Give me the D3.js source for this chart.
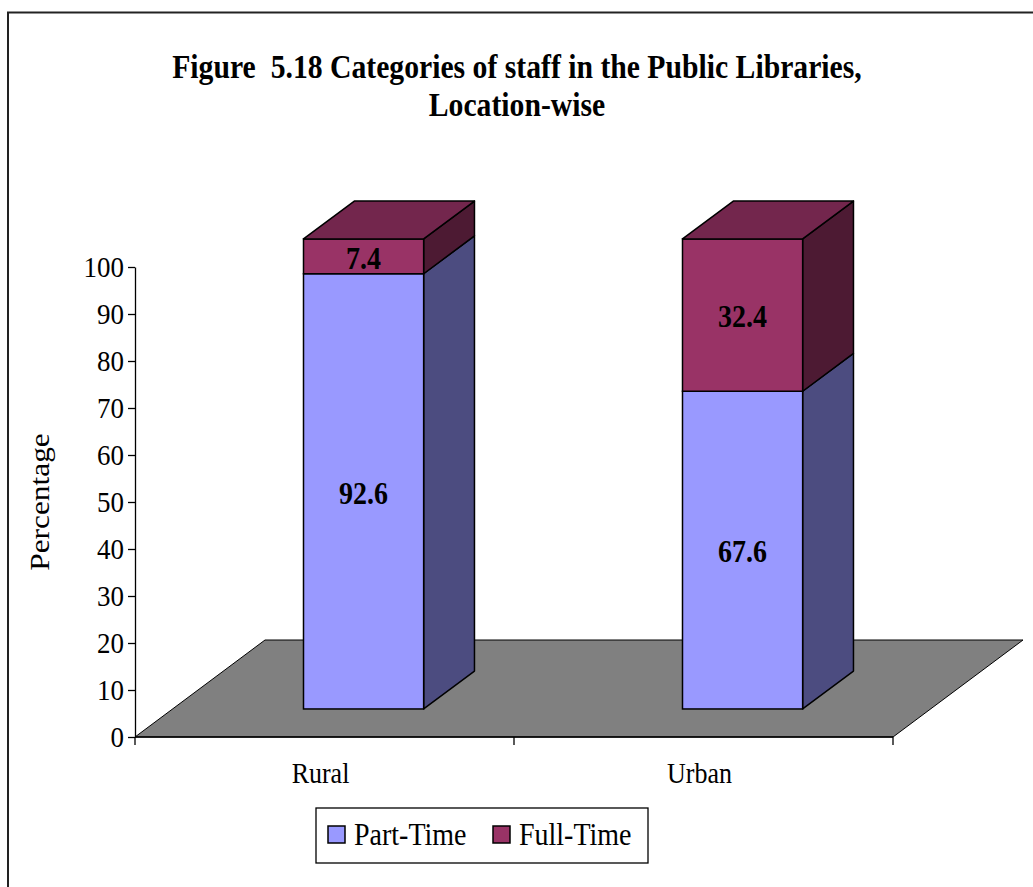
<!DOCTYPE html>
<html>
<head>
<meta charset="utf-8">
<script src="https://cdn.jsdelivr.net/npm/d3@7/dist/d3.min.js"></script>
<style>
  html, body { margin: 0; padding: 0; background: #fff; }
  svg { display: block; }
  text { font-family: "Liberation Serif", "Times New Roman", serif; }
</style>
</head>
<body>
<svg id="chart" width="1033" height="887"></svg>
<script>
// ---- data ----
const categories = ["Rural", "Urban"];
const seriesNames = ["Part-Time", "Full-Time"];
const partTime = [92.6, 67.6];
const fullTime = [7.4, 32.4];
const yTicks = [0, 10, 20, 30, 40, 50, 60, 70, 80, 90, 100];
const titleLines = ["Figure  5.18 Categories of staff in the Public Libraries,", "Location-wise"];
const yLabel = "Percentage";

// ---- styles ----
const colors = {
  "Part-Time": { front: "#9999FF", side: "#4C4C80", top: "#7A7ACC" },
  "Full-Time": { front: "#993366", side: "#4D1A33", top: "#73264D" }
};
const SY = 1.12; // vertical text stretch seen in the reference

const svg = d3.select("#chart");
svg.append("rect").attr("x", 0).attr("y", 0).attr("width", 1033).attr("height", 887).attr("fill", "#fff");
// outer chart border (right/bottom beyond view)
svg.append("rect").attr("x", 8).attr("y", 12.5).attr("width", 1100).attr("height", 1000)
  .attr("fill", "none").attr("stroke", "#222").attr("stroke-width", 2);

// ---- layout ----
const x0 = 135, x1 = 893, yBase = 737, yTop = 267;
const depthDX = 130, depthDY = -97;          // full floor depth
const f0 = 0.289, f1 = 0.68;                 // bar depth fraction (front/back)
const y = d3.scaleLinear().domain([0, 100]).range([yBase, yTop]);
const x = d3.scaleBand().domain(categories).range([x0, x1]);
const barW = x.bandwidth() * 0.317;

// floor
const floorPts = [[x0, yBase], [x1, yBase], [x1 + depthDX, yBase + depthDY], [x0 + depthDX, yBase + depthDY]];
svg.append("polygon").attr("points", floorPts.map(p => p.join(",")).join(" "))
  .attr("fill", "#808080").attr("stroke", "#000").attr("stroke-width", 1);

// y axis
const yAxis = d3.axisLeft(y).tickValues(yTicks).tickSize(7).tickSizeOuter(0).tickPadding(4);
const gy = svg.append("g").attr("transform", `translate(${x0},0)`).call(yAxis);
gy.select(".domain").attr("stroke", "#000").attr("stroke-width", 1.3);
gy.selectAll(".tick line").attr("stroke", "#000").attr("stroke-width", 1.3);
gy.selectAll(".tick text").attr("font-size", 27).attr("fill", "#000")
  .attr("font-family", "Liberation Serif, serif").attr("transform", `scale(1,${SY})`);

// x axis
svg.append("line").attr("x1", x0).attr("x2", x1).attr("y1", yBase).attr("y2", yBase)
  .attr("stroke", "#000").attr("stroke-width", 1.3);
const xTickPos = categories.map(c => x(c)).concat([x1]);
svg.selectAll(".xtick").data(xTickPos).enter().append("line")
  .attr("x1", d => d).attr("x2", d => d).attr("y1", yBase).attr("y2", yBase + 8)
  .attr("stroke", "#000").attr("stroke-width", 1.3);
svg.selectAll(".xlab").data(categories).enter().append("text")
  .attr("transform", d => `translate(${x(d) + x.bandwidth() / 2 - 4},783) scale(1,${SY})`)
  .attr("text-anchor", "middle").attr("font-size", 26).attr("fill", "#000").text(d => d);

// y label
svg.append("text").attr("transform", `translate(49,502) scale(1,${SY}) rotate(-90)`)
  .attr("text-anchor", "middle").attr("font-size", 28).attr("fill", "#000").text(yLabel);

// bars
const ox = f0 * depthDX, oy = f0 * depthDY;
const dx = (f1 - f0) * depthDX, dy = (f1 - f0) * depthDY;
const stacks = categories.map((c, i) => {
  const segs = [
    { name: "Part-Time", v0: 0, v1: partTime[i], val: partTime[i] },
    { name: "Full-Time", v0: partTime[i], v1: partTime[i] + fullTime[i], val: fullTime[i] }
  ];
  return { c, segs };
});
stacks.forEach(st => {
  const xl = x(st.c) + x.bandwidth() / 2 - barW / 2 + ox + 1.5;
  const xr = xl + barW;
  st.segs.forEach((s, j) => {
    const yb = y(s.v0) + oy, yt = y(s.v1) + oy;
    const col = colors[s.name];
    svg.append("polygon")
      .attr("points", [[xr, yb], [xr + dx, yb + dy], [xr + dx, yt + dy], [xr, yt]].map(p => p.join(",")).join(" "))
      .attr("fill", col.side).attr("stroke", "#000").attr("stroke-width", 1.5).attr("stroke-linejoin", "round");
    svg.append("rect").attr("x", xl).attr("y", yt).attr("width", barW).attr("height", yb - yt)
      .attr("fill", col.front).attr("stroke", "#000").attr("stroke-width", 1.5);
    if (j === st.segs.length - 1) {
      svg.append("polygon")
        .attr("points", [[xl, yt], [xl + dx, yt + dy], [xr + dx, yt + dy], [xr, yt]].map(p => p.join(",")).join(" "))
        .attr("fill", col.top).attr("stroke", "#000").attr("stroke-width", 1.5).attr("stroke-linejoin", "round");
    }
    svg.append("text")
      .attr("transform", `translate(${xl + barW / 2},${(yb + yt) / 2 + 2}) scale(1,${SY})`)
      .attr("dy", "0.33em")
      .attr("text-anchor", "middle").attr("font-size", 28).attr("font-weight", "bold")
      .attr("fill", "#000").text(s.val.toFixed(1));
  });
});

// title
svg.selectAll(".title").data(titleLines).enter().append("text")
  .attr("transform", (d, i) => `translate(517,${78 + i * 38}) scale(1,${SY})`)
  .attr("text-anchor", "middle").attr("font-size", 29.7).attr("font-weight", "bold")
  .attr("fill", "#000").style("white-space", "pre").text(d => d);

// legend
const lg = svg.append("g");
lg.append("rect").attr("x", 316).attr("y", 808).attr("width", 332).attr("height", 55)
  .attr("fill", "#fff").attr("stroke", "#000").attr("stroke-width", 1.3);
const legX = [328, 493];
seriesNames.forEach((n, i) => {
  lg.append("rect").attr("x", legX[i]).attr("y", 826).attr("width", 17).attr("height", 17)
    .attr("fill", colors[n].front).attr("stroke", "#000").attr("stroke-width", 1.5);
  lg.append("text").attr("transform", `translate(${legX[i] + 26},845) scale(1,${SY})`)
    .attr("font-size", 28).attr("fill", "#000").text(n);
});
</script>
</body>
</html>
